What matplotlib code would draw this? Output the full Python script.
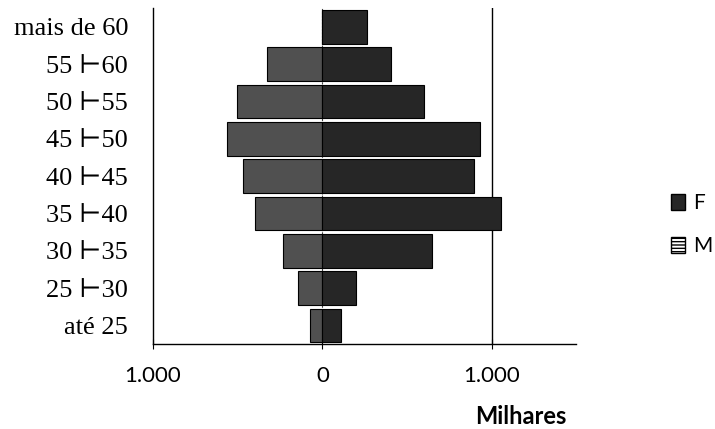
import matplotlib.pyplot as plt
from matplotlib.patches import Patch

# faixas etarias (de baixo para cima)
faixas = ["até 25", "25 ⊢30", "30 ⊢35", "35 ⊢40", "40 ⊢45",
          "45 ⊢50", "50 ⊢55", "55 ⊢60", "mais de 60"]
feminino = [111, 200, 649, 1055, 897, 929, 599, 405, 262]
masculino = [71, 142, 231, 396, 467, 562, 503, 325, 0]

fig = plt.figure(figsize=(7.15, 4.29), dpi=100)
ax = fig.add_axes([0.214, 0.198, 0.592, 0.783])

pos = list(range(len(faixas)))
ax.barh(pos, [-m for m in masculino], height=0.9, color="#505050",
        edgecolor="black", linewidth=0.8, label="M")
ax.barh(pos, feminino, height=0.9, color="#262626",
        edgecolor="black", linewidth=0.8, label="F")

ax.set_xlim(-1000, 1500)
ax.set_ylim(-0.5, len(faixas) - 0.5)
ax.axvline(1000, color="black", lw=1.0, zorder=0)
ax.axvline(0, color="#444444", lw=0.8, ls=(0, (2, 1)), zorder=0)

for s in ["top", "right"]:
    ax.spines[s].set_visible(False)
ax.spines["left"].set_linewidth(1.0)
ax.spines["bottom"].set_linewidth(1.0)

ax.set_xticks([-1000, 0, 1000])
ax.set_xticklabels(["1.000", "0", "1.000"], fontsize=16,
                   family=["Lato", "DejaVu Sans"])
ax.tick_params(axis="x", length=7, direction="inout", pad=12)
ax.set_yticks(pos)
ax.set_yticklabels(faixas, fontsize=19,
                   family=["Liberation Serif", "DejaVu Serif"])
ax.tick_params(axis="y", length=0, pad=18)

ax.set_xlabel("Milhares", fontsize=17, fontweight="bold",
              family=["Lato", "DejaVu Sans"])
ax.xaxis.set_label_coords(0.868, -0.18)

handles = [Patch(facecolor="#262626", edgecolor="black", label="F"),
           Patch(facecolor="white", edgecolor="black", hatch="-----", label="M")]
fig.legend(handles=handles, loc="center left", bbox_to_anchor=(0.938, 0.476),
           frameon=False, borderpad=0, borderaxespad=0,
           handlelength=0.7, handleheight=0.8, handletextpad=0.4,
           labelspacing=1.1,
           prop={"family": ["Lato", "DejaVu Sans"], "size": 15})

fig.savefig("out.png", dpi=100)
